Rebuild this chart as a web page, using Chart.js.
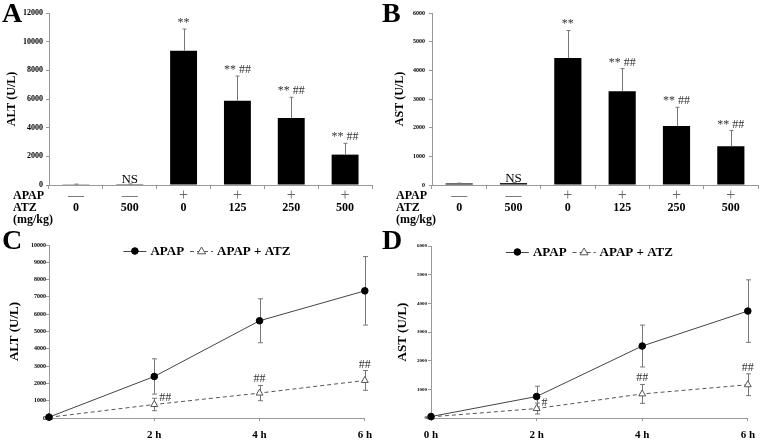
<!DOCTYPE html>
<html>
<head>
<meta charset="utf-8">
<script src="https://cdn.jsdelivr.net/npm/chart.js@4.4.1/dist/chart.umd.min.js"></script>
<style>
html, body { margin: 0; padding: 0; background: #fff; }
body { width: 763px; height: 440px; position: relative; overflow: hidden; }
.panel { position: absolute; }
.letter { position: absolute; font: bold 28px "Liberation Serif", serif; line-height: 1; color: #000; }
</style>
</head>
<body>
<div class="panel" style="left:0;top:0;width:380px;height:228px"><canvas id="chartA"></canvas></div>
<div class="panel" style="left:380px;top:0;width:383px;height:228px"><canvas id="chartB"></canvas></div>
<div class="panel" style="left:0;top:225px;width:380px;height:215px"><canvas id="chartC"></canvas></div>
<div class="panel" style="left:380px;top:225px;width:383px;height:215px"><canvas id="chartD"></canvas></div>
<div class="letter" style="left:2px;top:-1px">A</div>
<div class="letter" style="left:382px;top:-1px">B</div>
<div class="letter" style="left:2px;top:226px">C</div>
<div class="letter" style="left:382px;top:226px">D</div>
<script>
// groups for panels A and B
const apapRow = ['—', '—', '+', '+', '+', '+'];
const atzDose = ['0', '500', '0', '125', '250', '500'];

// A: serum ALT (U/L), mean and SD
const altMean = [50, 60, 9370, 5880, 4670, 2120];
const altSd = [10, 15, 1510, 1720, 1450, 790];
const altMarks = ['', 'NS', '**', '** ##', '** ##', '** ##'];

// B: serum AST (U/L)
const astMean = [55, 65, 4430, 3270, 2060, 1350];
const astSd = [10, 20, 960, 790, 650, 550];
const astMarks = ['', 'NS', '**', '** ##', '** ##', '** ##'];

// C and D: time course
const hours = [0, 2, 4, 6];
const cApap = [50, 2400, 5620, 7350];
const cApapSd = [20, 1020, 1270, 1980];
const cAtz = [40, 780, 1440, 2170];
const cAtzSd = [20, 360, 440, 570];
const cAtzMarks = ['', '##', '##', '##'];

const dApap = [50, 750, 2510, 3730];
const dApapSd = [20, 360, 730, 1090];
const dAtz = [40, 330, 840, 1160];
const dAtzSd = [20, 190, 330, 380];
const dAtzMarks = ['', '#', '##', '##'];

const SERIF = '"Liberation Serif", "Times New Roman", serif';

// whiskers + significance marks
const errorBars = {
  id: 'errorBars',
  beforeDatasetsDraw(chart, args, opts) {
    if (opts.behind) drawErrors(chart, opts);
  },
  afterDatasetsDraw(chart, args, opts) {
    if (!opts.behind) drawErrors(chart, opts);
    drawMarks(chart, opts);
  }
};

function drawErrors(chart, opts) {
  const ctx = chart.ctx, y = chart.scales.y;
  ctx.save();
  ctx.strokeStyle = '#777';
  ctx.lineWidth = 1;
  chart.data.datasets.forEach((ds, di) => {
    if (!ds.sd) return;
    chart.getDatasetMeta(di).data.forEach((el, i) => {
      const v = typeof ds.data[i] === 'object' ? ds.data[i].y : ds.data[i];
      const x = Math.round(el.x) + 0.5;
      const top = y.getPixelForValue(v + ds.sd[i]);
      const bot = opts.upOnly ? y.getPixelForValue(v) : y.getPixelForValue(v - ds.sd[i]);
      ctx.beginPath();
      ctx.moveTo(x, top); ctx.lineTo(x, bot);
      ctx.moveTo(x - opts.cap, top); ctx.lineTo(x + opts.cap, top);
      if (!opts.upOnly) { ctx.moveTo(x - opts.cap, bot); ctx.lineTo(x + opts.cap, bot); }
      ctx.stroke();
    });
  });
  ctx.restore();
}

function drawMarks(chart, opts) {
  const ctx = chart.ctx, y = chart.scales.y;
  ctx.save();
  ctx.font = '12px ' + SERIF;
  ctx.fillStyle = '#333';
  chart.data.datasets.forEach((ds, di) => {
    if (!ds.marks) return;
    chart.getDatasetMeta(di).data.forEach((el, i) => {
      const txt = ds.marks[i];
      if (!txt) return;
      const v = typeof ds.data[i] === 'object' ? ds.data[i].y : ds.data[i];
      const top = y.getPixelForValue(v + ds.sd[i]);
      if (opts.sideFirst && i === 1) {
        ctx.textAlign = 'left';
        ctx.textBaseline = 'middle';
        ctx.fillText(txt, el.x + 5, top);
      } else {
        ctx.textAlign = 'center';
        ctx.textBaseline = 'alphabetic';
        if (txt === 'NS') { ctx.save(); ctx.font = '13px ' + SERIF; ctx.fillStyle = '#000'; ctx.fillText(txt, el.x, top - 1); ctx.restore(); }
        else ctx.fillText(txt, el.x, top - 3);
      }
    });
  });
  ctx.restore();
}

// group rows under the bar charts
const groupRows = {
  id: 'groupRows',
  afterDraw(chart) {
    const ctx = chart.ctx, xs = chart.scales.x, area = chart.chartArea;
    const y0 = xs.top + 10.5, dy = 12.3;
    ctx.save();
    ctx.textBaseline = 'middle';
    ctx.fillStyle = '#000';
    ctx.textAlign = 'left';
    ctx.font = 'bold 12px ' + SERIF;
    ctx.fillText('APAP', area.left - 36, y0);
    ctx.fillText('ATZ', area.left - 36, y0 + dy);
    ctx.fillText('(mg/kg)', area.left - 36, y0 + 2 * dy);
    ctx.textAlign = 'center';
    apapRow.forEach((s, i) => {
      const x = xs.getPixelForTick(i);
      ctx.font = '16px ' + SERIF;
      ctx.fillStyle = '#666';
      ctx.fillText(s, x, y0);
      ctx.font = 'bold 12px ' + SERIF;
      ctx.fillStyle = '#000';
      ctx.fillText(atzDose[i], x, y0 + dy);
    });
    ctx.restore();
  }
};

// legend: line sample with marker + label
const lineLegend = {
  id: 'lineLegend',
  afterDraw(chart, args, opts) {
    const ctx = chart.ctx, area = chart.chartArea;
    ctx.save();
    ctx.font = 'bold 13px ' + SERIF;
    const items = chart.data.datasets.map(ds => ({ ds, w: 23 + 4 + ctx.measureText(ds.label).width }));
    const gap = 6;
    const total = items.reduce((s, it) => s + it.w, 0) + gap * (items.length - 1);
    let x = (area.left + area.right) / 2 - total / 2;
    const y = area.top + opts.offsetY;
    items.forEach(it => {
      const ds = it.ds;
      ctx.strokeStyle = ds.borderColor;
      ctx.lineWidth = 1;
      ctx.setLineDash(ds.borderDash || []);
      ctx.beginPath(); ctx.moveTo(x, y + 0.5); ctx.lineTo(x + 23, y + 0.5); ctx.stroke();
      ctx.setLineDash([]);
      ctx.fillStyle = ds.pointBackgroundColor;
      ctx.strokeStyle = ds.pointBorderColor;
      ctx.beginPath();
      if (ds.pointStyle === 'triangle') {
        const r = ds.pointRadius;
        ctx.moveTo(x + 11.5, y - r); ctx.lineTo(x + 11.5 + r, y + r * 0.7); ctx.lineTo(x + 11.5 - r, y + r * 0.7); ctx.closePath();
      } else {
        ctx.arc(x + 11.5, y, ds.pointRadius, 0, Math.PI * 2);
      }
      ctx.fill(); ctx.stroke();
      ctx.fillStyle = '#000';
      ctx.textBaseline = 'middle';
      ctx.textAlign = 'left';
      ctx.fillText(ds.label, x + 27, y + 1);
      x += it.w + gap;
    });
    ctx.restore();
  }
};

const plainNum = v => String(v);

function barChart(id, means, sds, marks, yMax, step, title, o) {
  return new Chart(document.getElementById(id), {
    type: 'bar',
    data: {
      labels: atzDose,
      datasets: [{ data: means, sd: sds, marks: marks, backgroundColor: '#000', borderWidth: 0,
                   barPercentage: 0.5, categoryPercentage: 1 }]
    },
    options: {
      responsive: true, maintainAspectRatio: false, animation: false,
      layout: { padding: { top: 13, right: o.right, bottom: 0, left: 0 } },
      plugins: { legend: { display: false }, tooltip: { enabled: false },
                 errorBars: { upOnly: true, cap: 2, behind: false } },
      scales: {
        x: {
          grid: { offset: true, drawOnChartArea: false, tickLength: 4, color: '#999' },
          border: { color: '#999' },
          ticks: { callback: () => '' },
          afterFit: s => { s.height = 43; }
        },
        y: {
          min: 0, max: yMax,
          ticks: { stepSize: step, padding: o.tickPad, color: '#000', callback: plainNum,
                   font: { family: SERIF, size: o.tickSize, weight: 'bold' } },
          grid: { drawOnChartArea: false, tickLength: 3, color: '#999' },
          border: { color: '#999' },
          title: { display: true, text: title, color: '#000', padding: { top: o.titlePad, bottom: 0 },
                   font: { family: SERIF, size: 12, weight: 'bold' } },
          afterFit: s => { s.width = o.yWidth; }
        }
      }
    },
    plugins: [errorBars, groupRows]
  });
}

function lineChart(id, apap, apapSd, atz, atzSd, atzMarks, yMax, title, o) {
  return new Chart(document.getElementById(id), {
    type: 'line',
    data: {
      datasets: [
        { label: 'APAP', data: hours.map((h, i) => ({ x: h, y: apap[i] })), sd: apapSd,
          borderColor: '#444', borderWidth: 1, pointStyle: 'circle', pointRadius: 3.3,
          pointBackgroundColor: '#000', pointBorderColor: '#000', pointBorderWidth: 1, clip: false },
        { label: 'APAP + ATZ', data: hours.map((h, i) => ({ x: h, y: atz[i] })), sd: atzSd, marks: atzMarks,
          borderColor: '#555', borderWidth: 1, borderDash: [4, 3], pointStyle: 'triangle', pointRadius: 4,
          pointBackgroundColor: '#fff', pointBorderColor: '#555', pointBorderWidth: 1, clip: false }
      ]
    },
    options: {
      responsive: true, maintainAspectRatio: false, animation: false,
      layout: { padding: { top: o.top, right: o.right, bottom: 0, left: 0 } },
      plugins: { legend: { display: false }, tooltip: { enabled: false },
                 errorBars: { upOnly: false, cap: 2.5, behind: true, sideFirst: true },
                 lineLegend: { offsetY: 6 } },
      scales: {
        x: {
          type: 'linear', min: 0, max: 6,
          ticks: { stepSize: 2, padding: 8, color: '#000', font: { family: SERIF, size: 11, weight: 'bold' },
                   callback: v => (v === 0 && !o.showZero) ? '' : v + ' h' },
          grid: { drawOnChartArea: false, tickLength: 3, color: '#999' },
          border: { color: '#999' },
          afterFit: s => { s.height = 22; }
        },
        y: {
          min: 0, max: yMax,
          ticks: { stepSize: 1000, padding: o.tickPad, color: '#000', callback: plainNum,
                   font: { family: SERIF, size: o.tickSize, weight: 'bold' } },
          grid: { drawOnChartArea: false, tickLength: 3, color: '#999' },
          border: { color: '#999' },
          title: { display: true, text: title, color: '#000', padding: { top: o.titlePad, bottom: 0 },
                   font: { family: SERIF, size: 13, weight: 'bold' } },
          afterFit: s => { s.width = o.yWidth; }
        }
      }
    },
    plugins: [errorBars, lineLegend]
  });
}

barChart('chartA', altMean, altSd, altMarks, 12000, 2000, 'ALT (U/L)',
  { right: 8, tickPad: 3, tickSize: 8, titlePad: 5, yWidth: 49 });
barChart('chartB', astMean, astSd, astMarks, 6000, 1000, 'AST (U/L)',
  { right: 5, tickPad: 4, tickSize: 6, titlePad: 13, yWidth: 52 });
lineChart('chartC', cApap, cApapSd, cAtz, cAtzSd, cAtzMarks, 10000, 'ALT (U/L)',
  { top: 20, right: 13, tickPad: 0, tickSize: 6, titlePad: 7, yWidth: 49, showZero: false });
lineChart('chartD', dApap, dApapSd, dAtz, dAtzSd, dAtzMarks, 6000, 'AST (U/L)',
  { top: 21, right: 9, tickPad: 1, tickSize: 5, titlePad: 15, yWidth: 51, showZero: true });
</script>
</body>
</html>
